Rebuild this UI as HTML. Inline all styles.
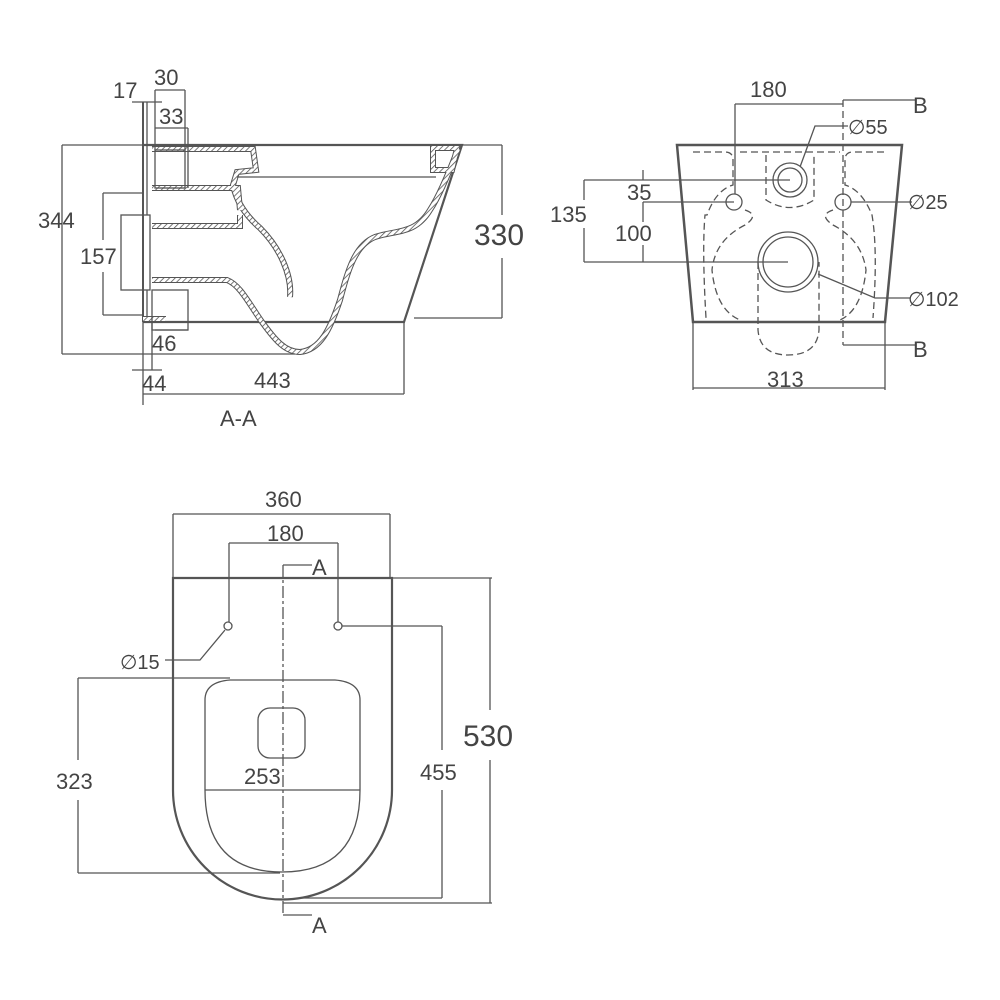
<!DOCTYPE html>
<html><head><meta charset="utf-8"><style>
html,body{margin:0;padding:0;background:#fff}
svg{display:block}
text{font-family:"Liberation Sans",sans-serif;fill:#444}
</style></head><body>
<svg width="1000" height="1000" viewBox="0 0 1000 1000" xmlns="http://www.w3.org/2000/svg">
<defs>
<pattern id="h" width="4" height="4" patternUnits="userSpaceOnUse" patternTransform="rotate(45)">
<rect width="4" height="4" fill="#fff"/><line x1="0" y1="0" x2="0" y2="4" stroke="#555" stroke-width="1.6"/>
</pattern>
<g id="walls">
<path d="M152 149 H253 L256 170 L237 172 L233 185 C236 200 245 215 260 228 C280 248 292 275 290 297"/>
<path d="M152 188 H238 L240 210" />
<path d="M152 226 H240 L240 215"/>
<path d="M152 280 H227 C240 285 248 302 262 322 C275 340 285 352 300 352 C320 350 330 330 340 300 C348 270 355 245 375 237 C395 230 415 235 430 210 C440 195 450 170 458 149"/>
<path d="M143 319 H166"/>
<path d="M433 148 H457 L452 170 H433 Z"/>
</g>
</defs>
<g fill="none" stroke="#555" stroke-width="1.3">
<!-- ===== Section A-A ===== -->
<path d="M143 145 H462 L404 322 H143" stroke-width="2.2"/>
<line x1="143" y1="102" x2="143" y2="322" stroke-width="2"/>
<line x1="147" y1="102" x2="147" y2="215" />
<line x1="147" y1="290" x2="147" y2="322" />
<use href="#walls" stroke="#555" stroke-width="6"/>
<use href="#walls" stroke="url(#h)" stroke-width="4"/>
<line x1="237" y1="177" x2="436" y2="177"/>
<rect x="155" y="150" width="30" height="38"/>
<rect x="121" y="215" width="29" height="75"/>
<rect x="152" y="290" width="36" height="40"/>
<!-- dims -->
<line x1="62" y1="145" x2="143" y2="145"/><line x1="62" y1="145" x2="62" y2="354"/><line x1="62" y1="354" x2="295" y2="354"/>
<line x1="462" y1="145" x2="502" y2="145"/><line x1="502" y1="145" x2="502" y2="215"/><line x1="502" y1="258" x2="502" y2="318"/><line x1="414" y1="318" x2="502" y2="318"/>
<line x1="103" y1="193" x2="143" y2="193"/><line x1="103" y1="193" x2="103" y2="240"/><line x1="103" y1="272" x2="103" y2="315"/><line x1="103" y1="315" x2="143" y2="315"/>
<line x1="143" y1="322" x2="143" y2="405"/><line x1="152" y1="322" x2="152" y2="370"/><line x1="132" y1="370" x2="162" y2="370"/>
<line x1="143" y1="394" x2="404" y2="394"/><line x1="404" y1="322" x2="404" y2="394"/>
<line x1="155" y1="90" x2="155" y2="150"/><line x1="185" y1="90" x2="185" y2="150"/><line x1="155" y1="90" x2="185" y2="90"/>
<line x1="155" y1="128" x2="188" y2="128"/><line x1="188" y1="128" x2="188" y2="188"/>
<line x1="132" y1="102" x2="162" y2="102"/>
<line x1="155" y1="330" x2="188" y2="330"/>
<!-- ===== B view ===== -->
<path d="M677 145 H902 L885 322 H693 Z" stroke-width="2.5"/>
<line x1="693" y1="322" x2="693" y2="390"/><line x1="885" y1="322" x2="885" y2="390"/><line x1="693" y1="388" x2="885" y2="388"/>
<g stroke-dasharray="7 4">
<path d="M693 152 H725 Q733 152 733 160 V185 Q716 190 707 215 L705 215 Q702 250 706 318"/>
<path d="M884 152 H853 Q845 152 845 160 V185 Q862 190 872 215 Q878 250 873 318"/>
<path d="M740 152 H840"/>
<path d="M766 155 V200 Q790 215 814 200 V155"/>
<path d="M745 210 Q760 215 745 225 Q715 240 712 270 Q716 310 740 320"/>
<path d="M833 210 Q818 215 833 225 Q862 240 866 270 Q862 310 840 320"/>
<path d="M758 262 V330 Q760 355 788 355 Q817 355 819 330 V262"/>
<line x1="843" y1="100" x2="843" y2="345"/>
</g>
<circle cx="790" cy="180" r="17"/><circle cx="790" cy="180" r="12"/>
<circle cx="734" cy="202" r="8"/><circle cx="843" cy="202" r="8"/>
<circle cx="788" cy="262" r="30"/><circle cx="788" cy="262" r="25"/>
<line x1="735" y1="104" x2="843" y2="104"/><line x1="735" y1="104" x2="735" y2="194"/>
<line x1="843" y1="100" x2="915" y2="100"/><line x1="843" y1="345" x2="915" y2="345"/>
<path d="M800 167 L815 126 H848"/>
<line x1="851" y1="202" x2="912" y2="202"/>
<path d="M818 274 L875 298 H910"/>
<line x1="584" y1="180" x2="790" y2="180"/><line x1="584" y1="262" x2="788" y2="262"/>
<line x1="584" y1="180" x2="584" y2="200"/><line x1="584" y1="228" x2="584" y2="262"/>
<line x1="643" y1="170" x2="643" y2="180"/><line x1="643" y1="202" x2="734" y2="202"/><line x1="643" y1="202" x2="643" y2="222"/><line x1="643" y1="245" x2="643" y2="262"/>
<!-- ===== Top view ===== -->
<path d="M173 578 H392 V790 A109.5 109.5 0 0 1 173 790 Z" stroke-width="2.2"/>
<path d="M205 700 Q205 682 230 680 H335 Q360 682 360 700 V790 Q360 872 282 872 Q205 872 205 790 Z"/>
<line x1="205" y1="790" x2="360" y2="790"/>
<rect x="258" y="708" width="47" height="50" rx="12"/>
<line x1="283" y1="565" x2="283" y2="915" stroke-dasharray="12 3 3 3"/>
<line x1="283" y1="565" x2="312" y2="565"/><line x1="283" y1="915" x2="312" y2="915"/>
<circle cx="228" cy="626" r="4"/><circle cx="338" cy="626" r="4"/>
<line x1="173" y1="514" x2="390" y2="514"/><line x1="173" y1="514" x2="173" y2="578"/><line x1="390" y1="514" x2="390" y2="578"/>
<line x1="229" y1="543" x2="338" y2="543"/><line x1="229" y1="543" x2="229" y2="622"/><line x1="338" y1="543" x2="338" y2="622"/>
<line x1="392" y1="578" x2="492" y2="578"/><line x1="490" y1="578" x2="490" y2="710"/><line x1="490" y1="760" x2="490" y2="903"/><line x1="283" y1="903" x2="492" y2="903"/>
<line x1="342" y1="626" x2="442" y2="626"/><line x1="442" y1="626" x2="442" y2="750"/><line x1="442" y1="790" x2="442" y2="898"/><line x1="300" y1="898" x2="442" y2="898"/>
<line x1="78" y1="678" x2="230" y2="678"/><line x1="78" y1="678" x2="78" y2="760"/><line x1="78" y1="800" x2="78" y2="873"/><line x1="78" y1="873" x2="280" y2="873"/>
<path d="M225 630 L200 660 H165"/>
</g>
<!-- Text -->
<g font-size="22">
<text x="113" y="98">17</text><text x="154" y="85">30</text><text x="159" y="124">33</text>
<text x="38" y="228">344</text><text x="80" y="264">157</text>
<text x="474" y="245" font-size="30">330</text>
<text x="152" y="351">46</text><text x="142" y="391">44</text><text x="254" y="388">443</text>
<text x="220" y="426">A-A</text>
<text x="750" y="97">180</text><text x="913" y="113">B</text><text x="913" y="357">B</text>
<text x="848" y="134" font-size="20">∅55</text><text x="908" y="209" font-size="20">∅25</text><text x="908" y="306" font-size="20">∅102</text>
<text x="550" y="222">135</text><text x="627" y="200">35</text><text x="615" y="241">100</text>
<text x="767" y="387">313</text>
<text x="265" y="507">360</text><text x="267" y="541">180</text>
<text x="312" y="575">A</text><text x="312" y="933">A</text>
<text x="120" y="669" font-size="20">∅15</text>
<text x="463" y="746" font-size="30">530</text><text x="420" y="780">455</text>
<text x="56" y="789">323</text><text x="244" y="784">253</text>
</g>
</svg>
</body></html>
